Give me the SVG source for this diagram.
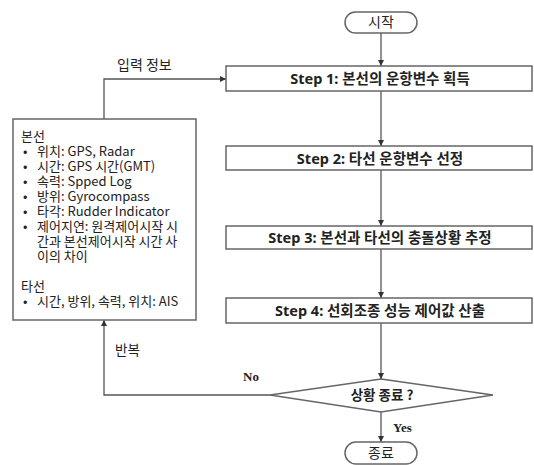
<svg xmlns="http://www.w3.org/2000/svg" width="534" height="465" viewBox="0 0 534 465">
<style>
.box{fill:#fff;stroke:#666;stroke-width:1.5}
.ln{fill:none;stroke:#555;stroke-width:1.3}
.t{font-family:"Noto Sans CJK KR","Noto Sans",sans-serif;font-size:13px;fill:#222}
.st{font-family:"Noto Sans","Noto Sans CJK KR",sans-serif;font-size:14.5px;font-weight:bold;fill:#222;text-anchor:middle}
.b{font-weight:bold}
.c{text-anchor:middle}
.s{font-family:"Liberation Serif",serif;font-size:13px;font-weight:bold;fill:#222}
</style>
<defs>
<marker id="ah" viewBox="0 0 10 10" refX="10" refY="5" markerWidth="6" markerHeight="6" markerUnits="userSpaceOnUse" orient="auto">
<path d="M0,0 L10,5 L0,10 z" fill="#333"/>
</marker>
</defs>
<rect width="534" height="465" fill="#fff"/>
<g id="connectors">
<path class="ln" d="M381,33 V66" marker-end="url(#ah)"/>
<path class="ln" d="M381,91 V146" marker-end="url(#ah)"/>
<path class="ln" d="M381,170 V226" marker-end="url(#ah)"/>
<path class="ln" d="M381,249 V298" marker-end="url(#ah)"/>
<path class="ln" d="M381,323 V379" marker-end="url(#ah)"/>
<path class="ln" d="M381,412 V442" marker-end="url(#ah)"/>
<path class="ln" d="M270,395 H104 V320" marker-end="url(#ah)"/>
<path class="ln" d="M104,119 V79 H226" marker-end="url(#ah)"/>
<text class="t" x="117" y="70" style="font-size:14px">입력 정보</text>
<text class="t" x="115" y="355" style="font-size:13.5px">반복</text>
<text class="s" x="243" y="381">No</text>
<text class="s" x="393" y="432">Yes</text>
</g>
<g id="start">
<rect class="box" x="345" y="12" width="72" height="21" rx="10.5"/>
<text class="t c" x="381" y="27" style="font-size:14px">시작</text>
</g>
<g id="step1">
<rect class="box" x="226" y="66" width="306" height="25"/>
<text class="st" x="380" y="84">Step 1: 본선의 운항변수 획득</text>
</g>
<g id="step2">
<rect class="box" x="226" y="146" width="306" height="24"/>
<text class="st" x="380" y="163.5">Step 2: 타선 운항변수 선정</text>
</g>
<g id="step3">
<rect class="box" x="226" y="226" width="306" height="23"/>
<text class="st" x="380" y="243">Step 3: 본선과 타선의 충돌상황 추정</text>
</g>
<g id="step4">
<rect class="box" x="226" y="298" width="306" height="25"/>
<text class="st" x="380" y="316">Step 4: 선회조종 성능 제어값 산출</text>
</g>
<g id="decision">
<polygon class="box" points="381,379 493,395 381,412 270,395"/>
<text class="t b c" x="382" y="399.5" style="font-size:13.5px">상황 종료 ?</text>
</g>
<g id="end">
<rect class="box" x="345" y="442" width="72" height="22" rx="11"/>
<text class="t c" x="381" y="458" style="font-size:14px">종료</text>
</g>
<g id="input">
<rect class="box" x="13" y="119" width="183" height="201"/>
<text class="t"><tspan x="21" y="141">본선</tspan><tspan x="23" y="156">•</tspan><tspan x="37" y="156">위치: GPS, Radar</tspan><tspan x="23" y="171">•</tspan><tspan x="37" y="171">시간: GPS 시간(GMT)</tspan><tspan x="23" y="186">•</tspan><tspan x="37" y="186">속력: Spped Log</tspan><tspan x="23" y="201">•</tspan><tspan x="37" y="201">방위: Gyrocompass</tspan><tspan x="23" y="216">•</tspan><tspan x="37" y="216">타각: Rudder Indicator</tspan><tspan x="23" y="231">•</tspan><tspan x="37" y="231">제어지연: 원격제어시작 시</tspan><tspan x="37" y="246">간과 본선제어시작 시간 사</tspan><tspan x="37" y="261">이의 차이</tspan><tspan x="21" y="291">타선</tspan><tspan x="23" y="306">•</tspan><tspan x="37" y="306">시간, 방위, 속력, 위치: AIS</tspan></text>
</g>
</svg>
